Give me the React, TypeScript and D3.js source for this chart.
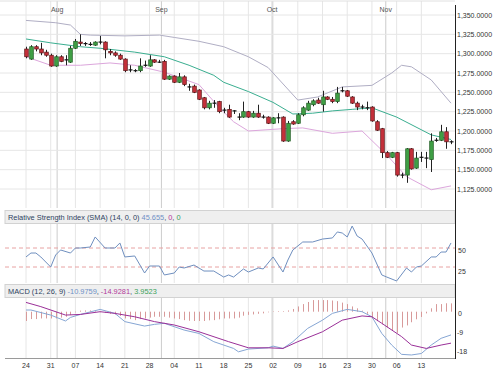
import React from "react";
import * as d3 from "d3";

// weekly tick labels (every 5 trading days) and month markers
const tickLabels = ["24", "31", "07", "14", "21", "28", "04", "11", "18", "25", "02", "09", "16", "23", "30", "06", "13"];
const monthLabels = ["Aug", "Sep", "Oct", "Nov"];
const monthPos = [6.3, 27.4, 49.8, 72.8];

const priceTicks = [1125, 1150, 1175, 1200, 1225, 1250, 1275, 1300, 1325, 1350];
const rsiTicks = [25, 50];
const macdTicks = [0, -9, -18];

const opens = [
  1306, 1293, 1309, 1306, 1302, 1298, 1284, 1296, 1292, 1289,
  1307, 1315, 1313, 1312, 1311, 1315, 1315, 1303, 1301, 1298,
  1293, 1279, 1278, 1278, 1285, 1284, 1292, 1289, 1290, 1267,
  1271, 1263, 1270, 1257, 1258, 1253, 1243, 1230, 1236, 1238,
  1227, 1228, 1226, 1218, 1218, 1225, 1218, 1223, 1218, 1218,
  1210, 1217, 1218, 1187, 1212, 1210, 1221, 1227, 1234, 1240,
  1234, 1244, 1241, 1238, 1252, 1252, 1244, 1236, 1231, 1230,
  1231, 1212, 1203, 1172, 1166, 1172, 1143, 1143, 1177, 1152,
  1166, 1165, 1163, 1188, 1188, 1199, 1186,
];
const highs = [
  1309, 1311, 1311, 1314, 1305, 1300, 1298, 1298, 1298, 1310,
  1319, 1325, 1315, 1315, 1316, 1323, 1316, 1306, 1303, 1300,
  1294, 1285, 1280, 1294, 1291, 1298, 1293, 1292, 1292, 1272,
  1272, 1275, 1272, 1261, 1260, 1254, 1244, 1239, 1240, 1239,
  1230, 1234, 1227, 1223, 1238, 1226, 1226, 1234, 1221, 1219,
  1218, 1223, 1219, 1213, 1214, 1223, 1232, 1239, 1241, 1243,
  1252, 1245, 1244, 1257, 1257, 1253, 1245, 1238, 1234, 1238,
  1232, 1214, 1204, 1174, 1173, 1173, 1146, 1178, 1178, 1173,
  1173, 1173, 1197, 1191, 1208, 1205, 1188,
];
const lows = [
  1294, 1292, 1303, 1298, 1296, 1283, 1283, 1289, 1285, 1288,
  1306, 1310, 1310, 1310, 1310, 1312, 1294, 1298, 1296, 1292,
  1276, 1276, 1276, 1276, 1283, 1283, 1288, 1288, 1266, 1266,
  1262, 1262, 1258, 1252, 1249, 1240, 1228, 1228, 1230, 1223,
  1223, 1217, 1222, 1214, 1217, 1217, 1217, 1217, 1216, 1209,
  1209, 1210, 1186, 1186, 1208, 1209, 1219, 1226, 1232, 1235,
  1225, 1240, 1236, 1236, 1250, 1244, 1235, 1227, 1228, 1227,
  1212, 1200, 1165, 1165, 1165, 1141, 1139, 1133, 1150, 1151,
  1160, 1152, 1147, 1186, 1187, 1177, 1183,
];
const closes = [
  1296, 1309, 1306, 1301, 1298, 1284, 1296, 1290, 1292, 1307,
  1316, 1313, 1313, 1312, 1315, 1315, 1305, 1301, 1298, 1293,
  1278, 1279, 1278, 1284, 1285, 1292, 1289, 1289, 1267, 1271,
  1263, 1270, 1260, 1257, 1250, 1241, 1230, 1236, 1236, 1225,
  1227, 1218, 1226, 1218, 1225, 1218, 1223, 1218, 1218, 1210,
  1217, 1217, 1187, 1210, 1209, 1221, 1230, 1236, 1239, 1236,
  1244, 1241, 1238, 1249, 1252, 1245, 1236, 1231, 1231, 1230,
  1213, 1201, 1172, 1166, 1172, 1143, 1143, 1177, 1151, 1165,
  1166, 1165, 1187, 1188, 1199, 1186, 1186,
];

// bollinger bands (read at sample days)
const upperIdx = [0, 6, 9, 11, 13, 20, 27, 30, 35, 40, 45, 49, 55, 59, 64, 70, 74, 76, 78, 82, 86];
const upperVal = [1343, 1340, 1337, 1325, 1324, 1323, 1324, 1321, 1316, 1309, 1296, 1282, 1240, 1244, 1257, 1259, 1275, 1285, 1283, 1266, 1236];
const midIdx = [0, 5, 11, 15, 22, 28, 33, 38, 40, 45, 50, 54, 58, 62, 66, 70, 75, 82, 86];
const midVal = [1319, 1314, 1309, 1307, 1302, 1296, 1285, 1272, 1263, 1251, 1237, 1222, 1223, 1226, 1228, 1230, 1218, 1195, 1189];
const lowIdx = [0, 5, 11, 17, 22, 28, 35, 39, 42, 45, 52, 56, 62, 68, 73, 77, 82, 86];
const lowVal = [1296, 1285, 1285, 1288, 1285, 1276, 1260, 1231, 1212, 1200, 1203, 1204, 1197, 1200, 1169, 1141, 1124, 1129];

const rsiIdx = [0, 1, 2, 3, 5, 6, 7, 9, 10, 11, 13, 14, 16, 18, 19, 20, 22, 24, 25, 27, 28, 30, 31, 32, 34, 36, 38, 40, 41, 42, 44, 45, 47, 48, 50, 52, 53, 54, 56, 58, 60, 62, 63, 64, 65, 66, 67, 68, 70, 72, 73, 75, 77, 78, 79, 80, 82, 83, 84, 85, 86];
const rsiVal = [38.2, 43.4, 43.4, 38.2, 25, 40.8, 47.4, 43.4, 50, 50, 51.3, 64.5, 50, 50, 56.6, 38.2, 39.5, 17.1, 26.3, 26.3, 14.5, 17.1, 25, 23.7, 27.6, 19.7, 19.7, 11.8, 14.5, 11.8, 22.4, 18.4, 23.7, 22.4, 38.2, 18.4, 34.2, 47.4, 57.9, 57.9, 61.8, 63.2, 71.1, 69.7, 64.5, 78.9, 65.8, 61.8, 43.4, 14.5, 11.8, 6.6, 23.7, 18.4, 25, 26.3, 38.2, 38.2, 44.7, 44.7, 56.6];

const histVal = [
  -4.4, -3.5, -3.5, -3.2, -3.2, -3.2, -3.2, -2.8, -2.4, -1.6,
  -0.3, 0.5, 0.6, 0.6, 0.3, -0.3, -0.6, -1, -1.3, -2,
  -3.2, -3.5, -4, -3.5, -3.2, -2.8, -2.4, -2.4, -2.4, -2.8,
  -3.2, -3.5, -4, -4.3, -4.4, -4.4, -4.4, -4.1, -4, -3.6,
  -3.2, -3.2, -3.2, -2.8, -1.9, -1.5, -1.3, -1, -0.8, -0.3,
  0.2, 0.3, 0.3, 0.6, 1.3, 2.5, 3.6, 4.6, 5.5, 5.5,
  5.5, 5.5, 5.3, 5, 4.3, 3.6, 2.5, 1.6, 0.5, -1,
  -3.2, -4.5, -6, -7.5, -8.8, -10, -7.5, -6.5, -5, -3.6,
  -2.5, -0.8, 1.6, 3.6, 3.6, 4, 3.95,
];
const macdIdx = [0, 1, 5, 8, 9, 11, 15, 18, 20, 24, 26, 28, 30, 32, 35, 38, 42, 43, 45, 49, 50, 52, 54, 57, 60, 62, 65, 68, 70, 72, 74, 76, 78, 80, 82, 84, 86];
const macdVal = [0.8, 0.8, -1.6, -4.4, -2.7, -1.3, 1.1, -0.8, -4.7, -6.8, -6, -5.5, -7.1, -8.7, -10.3, -14.2, -17.4, -19, -17.7, -17.1, -16.3, -17.4, -14.2, -7.9, -4, -0.8, 1.1, 0, -2.4, -10.3, -15.8, -20.2, -20.5, -19.8, -15.8, -12.6, -11];
const sigIdx = [0, 3, 8, 11, 15, 18, 22, 26, 30, 35, 41, 45, 49, 52, 55, 60, 64, 68, 70, 72, 76, 78, 81, 84, 86];
const sigVal = [4.4, 2.4, -1.6, -1.3, 0, -0.8, -2.4, -4.7, -6.3, -9.5, -14.2, -17.1, -17.1, -17.4, -14.2, -9.5, -4, -2, -2.4, -5.5, -11.8, -15.8, -17.4, -15.8, -14.9];

const FONT = "'Liberation Sans', Arial, sans-serif";
const PLOT_R = 455;

export default function App() {
  const n = closes.length;
  const x = d3.scaleLinear().domain([0, n - 1]).range([26, 451]);
  const yP = d3.scaleLinear().domain([1125, 1350]).range([189, 15]);
  const yR = d3.scaleLinear().domain([25, 50]).range([267, 248]);
  const yM = d3.scaleLinear().domain([-18, 0]).range([349.7, 311.7]);

  const panels = [
    { top: 1, bottom: 208 },
    { top: 224, bottom: 283 },
    { top: 298, bottom: 358 },
  ];

  const lineFrom = (xs: number[], vs: number[], y: d3.ScaleLinear<number, number>) =>
    d3.line<number>().x((_, i) => x(xs[i])).y((v) => y(v))(vs) || "";

  const weekIdx = tickLabels.map((_, i) => i * 5);
  const fmt = (v: number) => d3.format(",.4f")(v);

  return (
    <svg width={501} height={372} style={{ position: "absolute", left: 0, top: 0, background: "#fff" }} fontFamily={FONT}>
      {/* grid */}
      {panels.map((p, pi) => (
        <g key={"g" + pi}>
          {weekIdx.map((w) => (
            <line key={w} x1={x(w)} x2={x(w)} y1={p.top} y2={p.bottom} stroke="#e6e6e6" />
          ))}
          {monthPos.map((m) => (
            <line key={m} x1={x(m)} x2={x(m)} y1={p.top} y2={p.bottom} stroke="#cccccc" />
          ))}
        </g>
      ))}
      <line x1={0} x2={PLOT_R} y1={1} y2={1} stroke="#e0e0e0" />
      {priceTicks.map((t) => (
        <line key={t} x1={0} x2={PLOT_R} y1={yP(t)} y2={yP(t)} stroke="#e6e6e6" />
      ))}

      {/* month labels */}
      {monthLabels.map((m, i) => (
        <text key={m} x={x(monthPos[i])} y={12} fontSize={7} fill="#555" textAnchor="middle">{m}</text>
      ))}

      {/* bollinger */}
      <path d={lineFrom(upperIdx, upperVal, yP)} fill="none" stroke="#b0aec4" strokeWidth={1} />
      <path d={lineFrom(lowIdx, lowVal, yP)} fill="none" stroke="#dca6dc" strokeWidth={1} />
      <path d={lineFrom(midIdx, midVal, yP)} fill="none" stroke="#3aae90" strokeWidth={1} />

      {/* candles */}
      {closes.map((c, i) => {
        const o = opens[i];
        const cx = Math.round(x(i)) + 0.5;
        const up = c > o;
        const flat = c === o;
        const top = yP(Math.max(o, c));
        const bot = yP(Math.min(o, c));
        return (
          <g key={i}>
            <line x1={cx} x2={cx} y1={yP(highs[i])} y2={yP(lows[i])} stroke="#222" strokeWidth={1} />
            {flat ? (
              <line x1={cx - 2} x2={cx + 2} y1={top} y2={top} stroke="#111" strokeWidth={1.2} />
            ) : (
              <rect x={cx - 1.8} y={top} width={3.6} height={Math.max(1, bot - top)}
                fill={up ? "#3f9f45" : "#c4303a"} stroke={up ? "#1f5a22" : "#5a1416"} strokeWidth={0.7} />
            )}
          </g>
        );
      })}

      {/* headers */}
      <rect x={5} y={210.5} width={450} height={13} fill="#efefef" stroke="#d2d2d2" />
      <text x={8} y={219.8} fontSize={7.4}>
        <tspan fill="#2d3f5e">Relative Strength Index (SMA) (14, 0, 0) </tspan>
        <tspan fill="#6f8fc6">45.655</tspan>
        <tspan fill="#2d3f5e">, </tspan>
        <tspan fill="#b23a9a">0</tspan>
        <tspan fill="#2d3f5e">, </tspan>
        <tspan fill="#3aa05a">0</tspan>
      </text>
      <rect x={5} y={284.5} width={450} height={13} fill="#efefef" stroke="#d2d2d2" />
      <text x={8} y={293.8} fontSize={7.4}>
        <tspan fill="#2d3f5e">MACD (12, 26, 9) </tspan>
        <tspan fill="#6f8fc6">-10.9759</tspan>
        <tspan fill="#2d3f5e">, </tspan>
        <tspan fill="#b23a9a">-14.9281</tspan>
        <tspan fill="#2d3f5e">, </tspan>
        <tspan fill="#3aa05a">3.9523</tspan>
      </text>

      {/* RSI */}
      {rsiTicks.map((t) => (
        <line key={t} x1={5} x2={PLOT_R} y1={yR(t)} y2={yR(t)} stroke="#e8a2a2" strokeDasharray="4,3" />
      ))}
      <path d={lineFrom(rsiIdx, rsiVal, yR)} fill="none" stroke="#6f8fbf" strokeWidth={1} />

      {/* MACD */}
      {histVal.map((v, i) => (
        <line key={i} x1={Math.round(x(i)) + 0.5} x2={Math.round(x(i)) + 0.5} y1={yM(0)} y2={yM(v)} stroke="#d89a9a" strokeWidth={1} />
      ))}
      <path d={lineFrom(macdIdx, macdVal, yM)} fill="none" stroke="#86a6d4" strokeWidth={1} />
      <path d={lineFrom(sigIdx, sigVal, yM)} fill="none" stroke="#9a2f98" strokeWidth={1} />
      <line x1={5} x2={PLOT_R} y1={358.5} y2={358.5} stroke="#9a9a9a" />

      {/* right axis */}
      <line x1={PLOT_R + 0.5} x2={PLOT_R + 0.5} y1={5} y2={359} stroke="#222" />
      {priceTicks.map((t) => (
        <text key={t} x={457} y={yP(t) + 2.5} fontSize={7} fill="#333">{fmt(t)}</text>
      ))}
      {rsiTicks.map((t) => (
        <text key={t} x={458} y={yR(t) + (t === 50 ? 4.5 : 7)} fontSize={7} fill="#333">{t}</text>
      ))}
      {macdTicks.map((t) => (
        <text key={t} x={t === 0 ? 458 : 457} y={yM(t) + 4.5} fontSize={7} fill="#333">{t}</text>
      ))}

      {/* bottom axis */}
      {tickLabels.map((l, i) => (
        <text key={l + i} x={x(weekIdx[i])} y={368} fontSize={7} fill="#333" textAnchor="middle">{l}</text>
      ))}
    </svg>
  );
}
